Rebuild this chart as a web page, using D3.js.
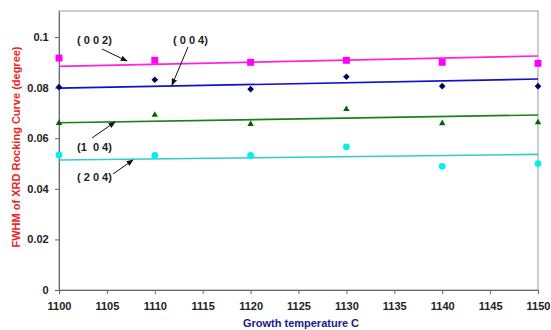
<!DOCTYPE html>
<html><head><meta charset="utf-8">
<script src="https://cdn.jsdelivr.net/npm/d3@7"></script>
<style>body{margin:0;background:#fff;}svg{display:block;}</style>
</head><body>
<svg id="c" width="551" height="330"></svg>
<script>
const temps = [1100, 1110, 1120, 1130, 1140, 1150];
const s002 = [0.0917, 0.0908, 0.0900, 0.0908, 0.0900, 0.0896];
const s004 = [0.0802, 0.0831, 0.0794, 0.0843, 0.0806, 0.0806];
const s104 = [0.0660, 0.0692, 0.0656, 0.0715, 0.0659, 0.0663];
const s204 = [0.0534, 0.0532, 0.0532, 0.0566, 0.0489, 0.0500];
// trend line end values [at 1100, at 1150]
const t002 = [0.0884, 0.0925];
const t004 = [0.0798, 0.0834];
const t104 = [0.0661, 0.0692];
const t204 = [0.0514, 0.0536];
const xTicks = [1100,1105,1110,1115,1120,1125,1130,1135,1140,1145,1150];
const yTicks = [0, 0.02, 0.04, 0.06, 0.08, 0.1];
const labels = ["( 0 0 2)", "( 0 0 4)", "(1  0 4)", "( 2 0 4)"];

const svg = d3.select("#c");
const L = 59, R = 538, T = 11, B = 290;
const x = d3.scaleLinear().domain([1100, 1150]).range([L, R]);
const y = d3.scaleLinear().domain([0, 0.1103]).range([B, T]);

svg.append("rect").attr("x", L).attr("y", T).attr("width", R - L).attr("height", B - T)
  .attr("fill", "none").attr("stroke", "#999").attr("stroke-width", 1);

const xa = svg.append("g").attr("transform", `translate(0,${B})`)
  .call(d3.axisBottom(x).tickValues(xTicks).tickFormat(d3.format("d")).tickSize(4).tickSizeOuter(0));
const ya = svg.append("g").attr("transform", `translate(${L},0)`)
  .call(d3.axisLeft(y).tickValues(yTicks).tickFormat(d => d === 0 ? "0" : d3.format("")(+d.toFixed(2))).tickSize(4).tickSizeOuter(0));
[xa, ya].forEach(a => {
  a.select(".domain").attr("stroke", "#666");
  a.selectAll(".tick line").attr("stroke", "#666");
  a.selectAll("text").attr("font-family", "Liberation Sans, Arial, sans-serif")
    .attr("font-size", 11).attr("font-weight", "bold").attr("fill", "#222");
});
xa.selectAll("text").attr("dy", "1.2em");
ya.selectAll("text").attr("dx", "-0.3em");

const squatDiamond = {draw(ctx, size) { const r = Math.sqrt(size / 2); ctx.moveTo(0, -r); ctx.lineTo(r, 0); ctx.lineTo(0, r); ctx.lineTo(-r, 0); ctx.closePath(); }};
const series = [
  {v: s002, t: t002, line: "#ff22dd", mark: "#ff00ff", shape: d3.symbolSquare, size: 48},
  {v: s004, t: t004, line: "#1010cc", mark: "#000066", shape: squatDiamond, size: 22},
  {v: s104, t: t104, line: "#1a801a", mark: "#006600", shape: d3.symbolTriangle, size: 18},
  {v: s204, t: t204, line: "#33cccc", mark: "#00f0f0", shape: d3.symbolCircle, size: 36}
];
series.forEach(s => {
  svg.append("line").attr("x1", x(1100)).attr("x2", x(1150))
    .attr("y1", y(s.t[0])).attr("y2", y(s.t[1]))
    .attr("stroke", s.line).attr("stroke-width", 1.6);
  svg.selectAll(null).data(temps).enter().append("path")
    .attr("d", d3.symbol().type(s.shape).size(s.size))
    .attr("transform", (d, i) => `translate(${x(d)},${y(s.v[i])})`)
    .attr("fill", s.mark);
});

// annotations
svg.append("defs").append("marker").attr("id", "ah").attr("viewBox", "0 0 10 10")
  .attr("refX", 9).attr("refY", 5).attr("markerWidth", 7).attr("markerHeight", 7)
  .attr("orient", "auto").append("path").attr("d", "M0,1L10,5L0,9z").attr("fill", "#111");
const ann = [
  {tx: 77, ty: 44, x1: 102, y1: 49, x2: 127, y2: 61},
  {tx: 173, ty: 44, x1: 188, y1: 47, x2: 172, y2: 85},
  {tx: 77, ty: 151, x1: 92, y1: 138, x2: 115, y2: 122},
  {tx: 77, ty: 181, x1: 113, y1: 174, x2: 133, y2: 160}
];
ann.forEach((a, i) => {
  svg.append("text").attr("x", a.tx).attr("y", a.ty).text(labels[i])
    .attr("font-family", "Liberation Sans, Arial, sans-serif").attr("font-size", 11)
    .attr("font-weight", "bold").attr("fill", "#222").attr("xml:space", "preserve");
  svg.append("line").attr("x1", a.x1).attr("y1", a.y1).attr("x2", a.x2).attr("y2", a.y2)
    .attr("stroke", "#111").attr("stroke-width", 1).attr("marker-end", "url(#ah)");
});

svg.append("text").attr("transform", "translate(20,147) rotate(-90)")
  .attr("text-anchor", "middle").text("FWHM of XRD Rocking Curve (degree)")
  .attr("font-family", "Liberation Sans, Arial, sans-serif").attr("font-size", 11)
  .attr("font-weight", "bold").attr("fill", "#ee2222");
svg.append("text").attr("x", 301).attr("y", 327)
  .attr("text-anchor", "middle").text("Growth temperature C")
  .attr("font-family", "Liberation Sans, Arial, sans-serif").attr("font-size", 11)
  .attr("font-weight", "bold").attr("fill", "#1a1a88");
</script>
</body></html>
